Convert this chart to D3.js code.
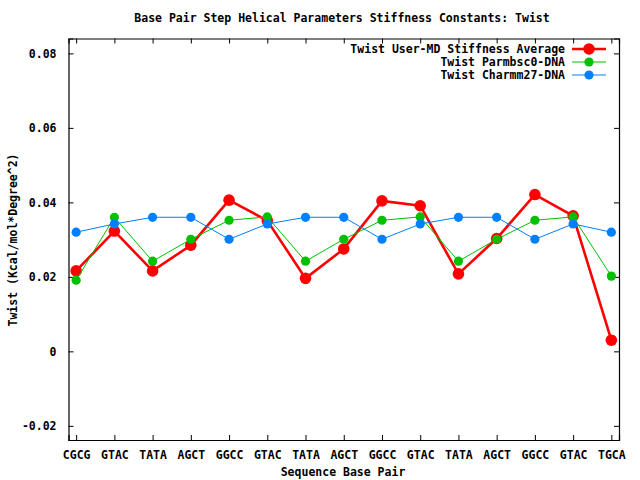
<!DOCTYPE html>
<html>
<head>
<meta charset="utf-8">
<script src="https://cdn.jsdelivr.net/npm/d3@7"></script>
<style>
  body { margin: 0; background: #fff; }
  text { font-family: "DejaVu Sans Mono", "Liberation Mono", monospace; font-weight: bold; font-size: 11.5px; fill: #000; }
</style>
</head>
<body>
<svg id="chart"></svg>
<script>
// categories and series
const steps = ['CGCG', 'GTAC', 'TATA', 'AGCT', 'GGCC', 'GTAC', 'TATA', 'AGCT', 'GGCC', 'GTAC', 'TATA', 'AGCT', 'GGCC', 'GTAC', 'TGCA'];
const userMD = [0.0216, 0.0323, 0.0216, 0.0285, 0.0406, 0.0351, 0.0196, 0.0275, 0.0404, 0.0391, 0.0208, 0.0303, 0.0421, 0.0364, 0.0030];
const parmbsc0 = [0.0191, 0.0360, 0.0242, 0.0301, 0.0352, 0.0361, 0.0242, 0.0301, 0.0352, 0.0361, 0.0242, 0.0301, 0.0352, 0.0361, 0.0202];
const charmm27 = [0.0320, 0.0342, 0.0360, 0.0360, 0.0301, 0.0342, 0.0360, 0.0360, 0.0301, 0.0342, 0.0360, 0.0360, 0.0301, 0.0342, 0.0320];
const yTicks = [-0.02, 0, 0.02, 0.04, 0.06, 0.08];

const series = [
  {name: 'Twist User-MD Stiffness Average', values: userMD, color: '#ff0000', width: 2.6, r: 5.8},
  {name: 'Twist Parmbsc0-DNA', values: parmbsc0, color: '#00c000', width: 1, r: 4.6},
  {name: 'Twist Charmm27-DNA', values: charmm27, color: '#0080ff', width: 1, r: 4.6}
];

const W = 640, H = 480;
const margin = {top: 38.5, right: 21, bottom: 40, left: 68.5};
const width = W - margin.left - margin.right;
const height = H - margin.top - margin.bottom;

const svg = d3.select('#chart').attr('width', W).attr('height', H);
const chart = svg.append('g').attr('transform', `translate(${margin.left},${margin.top})`);

const xScale = d3.scaleLinear().domain([-0.2, 14.2]).range([0, width]);
const yScale = d3.scaleLinear().domain([-0.0238, 0.0840]).range([height, 0]);

const fmt = d => d === 0 ? '0' : d.toFixed(2);

// axes (ticks point inward, mirrored on top/right)
const xAxisB = d3.axisBottom(xScale).tickValues(d3.range(steps.length)).tickSize(-5).tickPadding(11).tickFormat(i => steps[i]);
const xAxisT = d3.axisTop(xScale).tickValues(d3.range(steps.length)).tickSize(-5).tickFormat('');
const yAxisL = d3.axisLeft(yScale).tickValues(yTicks).tickSize(-5).tickPadding(12).tickFormat(fmt);
const yAxisR = d3.axisRight(yScale).tickValues(yTicks).tickSize(-5).tickFormat('');

chart.append('g').attr('class', 'axis').attr('transform', `translate(0,${height})`).call(xAxisB);
chart.append('g').attr('class', 'axis').call(xAxisT);
chart.append('g').attr('class', 'axis').call(yAxisL);
chart.append('g').attr('class', 'axis').attr('transform', `translate(${width},0)`).call(yAxisR);

chart.selectAll('.axis path').attr('stroke', '#000').attr('stroke-width', 1.2);
chart.selectAll('.axis line').attr('stroke', '#000');
chart.selectAll('.axis text').style('font-family', null).attr('font-size', null);

// lines and points
const line = d3.line().x((d, i) => xScale(i)).y(d => yScale(d));

series.forEach(s => {
  chart.append('path')
      .datum(s.values)
      .attr('fill', 'none')
      .attr('stroke', s.color)
      .attr('stroke-width', s.width)
      .attr('d', line);
  chart.selectAll(null)
      .data(s.values)
      .join('circle')
      .attr('cx', (d, i) => xScale(i))
      .attr('cy', d => yScale(d))
      .attr('r', s.r)
      .attr('fill', s.color);
});

// legend
const legend = svg.append('g').attr('transform', 'translate(565,49)');
series.forEach((s, i) => {
  const g = legend.append('g').attr('transform', `translate(0,${i * 13})`);
  g.append('text').attr('text-anchor', 'end').attr('dy', '0.35em').text(s.name);
  g.append('line').attr('x1', 7).attr('x2', 41).attr('stroke', s.color).attr('stroke-width', s.width);
  g.append('circle').attr('cx', 24).attr('r', s.r).attr('fill', s.color);
});

// titles
svg.append('text').attr('x', 342).attr('y', 22).attr('text-anchor', 'middle')
    .text('Base Pair Step Helical Parameters Stiffness Constants: Twist');
svg.append('text').attr('x', 343).attr('y', 476).attr('text-anchor', 'middle')
    .text('Sequence Base Pair');
svg.append('text').attr('transform', 'translate(17,240) rotate(-90)').attr('text-anchor', 'middle')
    .text('Twist (Kcal/mol*Degree^2)');
</script>
</body>
</html>
